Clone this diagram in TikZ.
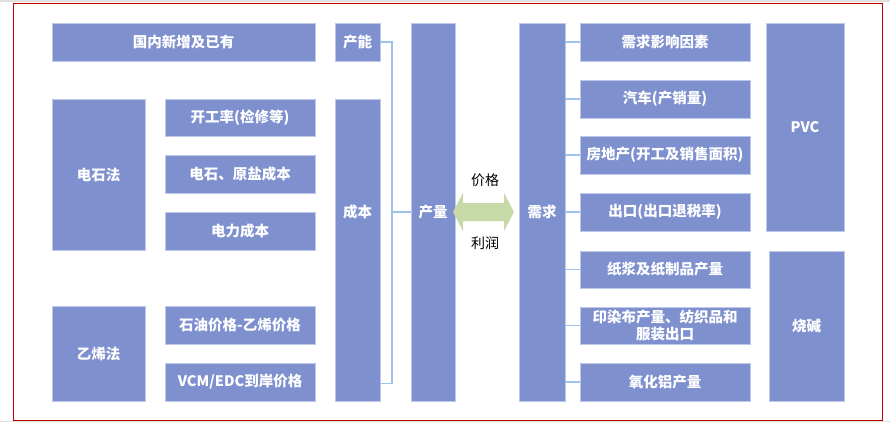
\documentclass[tikz,border=0pt]{standalone}
\usepackage{fontspec}
\setmainfont{Noto Sans CJK SC}
\usetikzlibrary{positioning,calc}
\definecolor{boxc}{RGB}{127,144,207}
\definecolor{boxline}{RGB}{190,200,235}
\definecolor{connc}{RGB}{157,195,235}
\definecolor{arrowc}{RGB}{199,217,166}
\definecolor{framec}{RGB}{192,0,0}
\tikzset{
  box/.style={fill=boxc, draw=boxline, line width=0.8pt, text=white, font=\fontsize{14.5}{17}\selectfont\bfseries, inner sep=0pt, align=center},
  conn/.style={draw=connc, line width=1.5pt},
  lbl/.style={text=black, font=\fontsize{14}{17}\selectfont, inner sep=0pt}
}
\newcommand{\bx}[6]{\node[box, minimum width=#4pt-#2pt, minimum height=#5pt-#3pt] (#1) at ({(#2+#4)/2},{(#3+#5)/2}) {#6};}
\begin{document}
\begin{tikzpicture}[x=1pt,y=-1pt]
\useasboundingbox (0,0) rectangle (890,422);
\draw[gray!25, line width=2pt] (0,1) -- (890,1);
\draw[gray!25, line width=2pt] (0,421.5) -- (890,421.5);
\draw[framec, line width=1pt] (13,4) rectangle (882,420);
% left column
\bx{gn}{52}{23}{315}{61}{国内新增及已有}
\bx{ds}{52}{99}{145}{250}{电石法}
\bx{kg}{165}{99}{315}{136}{开工率(检修等)}
\bx{dy}{165}{155}{315}{193}{电石、原盐成本}
\bx{dl}{165}{212}{315}{250}{电力成本}
\bx{yx}{52}{306}{145}{401}{乙烯法}
\bx{sy}{165}{306}{315}{344}{石油价格-乙烯价格}
\bx{vc}{165}{363}{315}{401}{VCM/EDC到岸价格}
\bx{cn}{335}{23}{380}{61}{产能}
\bx{cb}{335}{99}{380}{401}{}
\bx{cq}{411}{23}{455}{401}{产量}
\node[box, fill=none, draw=none] (cbt) at (cb.center |- cq.center) {成本};
% right column
\bx{xq}{519}{23}{565}{401}{需求}
\bx{r1}{580}{23}{750}{61}{需求影响因素}
\bx{r2}{580}{80}{750}{118}{汽车(产销量)}
\bx{r3}{580}{136}{750}{174}{房地产(开工及销售面积)}
\bx{r4}{580}{193}{750}{231}{出口(出口退税率)}
\bx{r5}{580}{251}{750}{288}{纸浆及纸制品产量}
\bx{r6}{580}{307}{750}{344}{印染布产量、纺织品和\\服装出口}
\bx{r7}{580}{363}{750}{401}{氧化铝产量}
\bx{pvc}{766}{23}{844}{231}{PVC}
\bx{sj}{769}{251}{844}{401}{烧碱}
% connectors
\coordinate (tr) at (392,0);
\coordinate (cbj) at ([yshift=18pt]cb.south east);
\draw[conn] (cn.east) -| (cbj -| tr) -- (cbj);
\draw[conn] (cq.west -| tr) -- (cq.west);
\foreach \n in {r1,r2,r3,r4,r5,r6,r7}{
  \draw[conn] (xq.east |- \n.west) -- (\n.west);
}
% double arrow
\fill[arrowc] (453,212) -- (463,193) -- (463,203) -- (504,203) -- (504,193) -- (514,212) -- (504,231) -- (504,221) -- (463,221) -- (463,231) -- cycle;
\node[lbl] (jg) at (485,180) {价格};
\node[lbl] (lr) at (485,243) {利润};
\end{tikzpicture}
\end{document}
